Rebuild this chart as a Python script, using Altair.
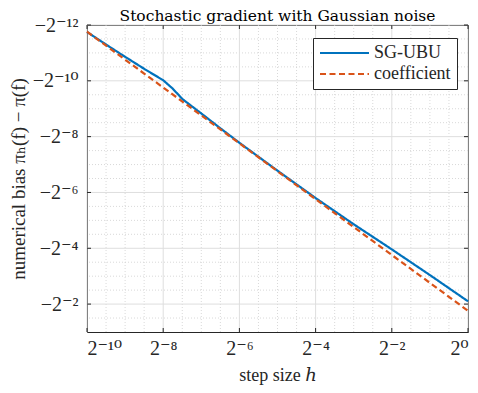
import altair as alt
import pandas as pd

# log2 of step size h and log2 of |bias| (bias is negative)
h_exp = [-10, -9.5, -9, -8.5, -8, -7.75, -7.5, -7, -6.5, -6, -5, -4, -3, -2, -1, 0]
sgubu_exp = [-11.75, -11.30, -10.86, -10.43, -10.02, -9.72, -9.35, -8.83, -8.30, -7.78,
             -6.78, -5.80, -4.86, -3.96, -3.04, -2.10]
coef_h_exp = [-10, 0]
coef_exp = [-11.76, -1.76]

series_names = ["SG-UBU", "coefficient"]
series_colors = ["#0072BD", "#D95319"]
series_dash = [[1, 0], [6, 3.5]]

title_text = ["Stochastic gradient with Gaussian noise"]
x_ticks = [-10, -8, -6, -4, -2, 0]
x_tick_labels = ["2⁻¹⁰", "2⁻⁸", "2⁻⁶", "2⁻⁴", "2⁻²", "2⁰"]
y_ticks = [-12, -10, -8, -6, -4, -2]
y_tick_labels = ["−2⁻¹²", "−2⁻¹⁰", "−2⁻⁸", "−2⁻⁶", "−2⁻⁴", "−2⁻²"]
x_minor = [-9.5, -9, -8.5, -7.5, -7, -6.5, -5.5, -5, -4.5, -3.5, -3, -2.5, -1.5, -1, -0.5]
y_minor = [-11.5, -11, -10.5, -9.5, -9, -8.5, -7.5, -7, -6.5, -5.5, -5, -4.5,
           -3.5, -3, -2.5, -1.5]

W, H = 381, 307
FONT = "'Liberation Serif', 'DejaVu Serif', serif"
TITLE_FONT = "'DejaVu Serif', 'Liberation Serif', serif"
TXT = "#262626"


def label_expr(ticks, labels):
    expr = "''"
    for t, l in reversed(list(zip(ticks, labels))):
        expr = f"datum.value == {t} ? '{l}' : {expr}"
    return expr


x_axis = alt.Axis(values=x_ticks, labelExpr=label_expr(x_ticks, x_tick_labels),
                  grid=False, ticks=False, domain=False, labelFont=FONT,
                  labelFontSize=20, labelColor=TXT, labelPadding=6,
                  title="step size ℎ", titleFont=FONT, titleFontSize=18,
                  titleFontWeight="normal", titleColor=TXT, titlePadding=8)
y_axis = alt.Axis(values=y_ticks, labelExpr=label_expr(y_ticks, y_tick_labels),
                  grid=False, ticks=False, domain=False, labelFont=FONT,
                  labelFontSize=20, labelColor=TXT, labelPadding=9,
                  title="numerical bias πₕ(f) − π(f)", titleFont=FONT,
                  titleFontSize=19, titleFontWeight="normal", titleColor=TXT,
                  titlePadding=4, titleY=H / 2)
x_scale = alt.Scale(domain=[-10, 0], nice=False, zero=False)
y_scale = alt.Scale(domain=[-12, -1], nice=False, zero=False, reverse=True)


def X(field):
    return alt.X(field, type="quantitative", scale=x_scale, axis=x_axis)


def Y(field):
    return alt.Y(field, type="quantitative", scale=y_scale, axis=y_axis)


lines_df = pd.DataFrame(
    {"hx": h_exp + coef_h_exp,
     "by": sgubu_exp + coef_exp,
     "series": [series_names[0]] * len(h_exp) + [series_names[1]] * len(coef_h_exp)}
)
xminor_df = pd.DataFrame({"hx": x_minor})
yminor_df = pd.DataFrame({"by": y_minor})
xmajor_df = pd.DataFrame({"hx": x_ticks})
ymajor_df = pd.DataFrame({"by": y_ticks})
title_df = pd.DataFrame({"t": title_text})

minor_x = alt.Chart(xminor_df).mark_rule(color="#cfcfcf", strokeWidth=0.8, strokeDash=[1, 2]).encode(x=X("hx"))
minor_y = alt.Chart(yminor_df).mark_rule(color="#cfcfcf", strokeWidth=0.8, strokeDash=[1, 2]).encode(y=Y("by"))
major_x = alt.Chart(xmajor_df).mark_rule(color="#dedede", strokeWidth=1).encode(x=X("hx"))
major_y = alt.Chart(ymajor_df).mark_rule(color="#dedede", strokeWidth=1).encode(y=Y("by"))

legend = alt.Legend(title=None, orient="none", legendX=226, legendY=13,
                    fillColor="white", strokeColor=TXT, padding=6,
                    symbolType="M-1.6,0H8.2", symbolSize=100, symbolStrokeWidth=2.2,
                    labelFont=FONT, labelFontSize=18, labelColor=TXT,
                    labelOffset=37, rowPadding=3)

lines = alt.Chart(lines_df).mark_line(strokeWidth=2.2).encode(
    x=X("hx"), y=Y("by"),
    color=alt.Color("series:N", scale=alt.Scale(domain=series_names, range=series_colors), legend=legend),
    strokeDash=alt.StrokeDash("series:N", scale=alt.Scale(domain=series_names, range=series_dash), legend=legend),
)

tick_style = dict(color=TXT, strokeWidth=1)
tb = alt.Chart(xmajor_df).mark_rule(**tick_style).encode(x=X("hx"), y=alt.value(H), y2=alt.value(H - 4))
tt = alt.Chart(xmajor_df).mark_rule(**tick_style).encode(x=X("hx"), y=alt.value(0), y2=alt.value(4))
tl = alt.Chart(ymajor_df).mark_rule(**tick_style).encode(y=Y("by"), x=alt.value(0), x2=alt.value(4))
tr = alt.Chart(ymajor_df).mark_rule(**tick_style).encode(y=Y("by"), x=alt.value(W), x2=alt.value(W - 4))

title = alt.Chart(title_df).mark_text(
    font=TITLE_FONT, fontSize=15.5, color="black", align="center", baseline="alphabetic"
).encode(text="t:N", x=alt.value(W / 2), y=alt.value(-3.8))

chart = alt.layer(minor_x, minor_y, major_x, major_y, lines, tb, tt, tl, tr, title).properties(
    width=W, height=H,
    autosize=alt.AutoSizeParams(type="none"),
    padding={"left": 79, "top": 17, "right": 2, "bottom": 53},
    background="white",
).configure_view(stroke=TXT, strokeWidth=1)

chart.save("out.html", embed_options={"renderer": "svg", "actions": False})
